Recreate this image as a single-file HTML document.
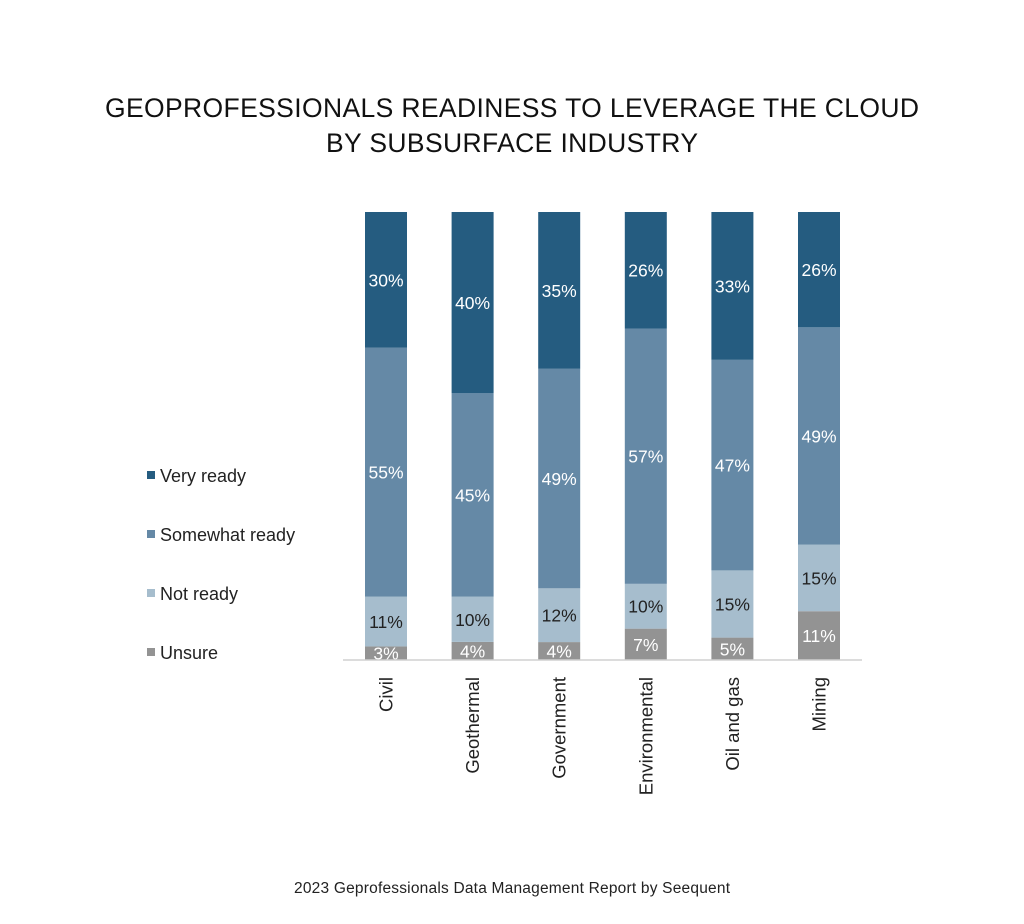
<!DOCTYPE html>
<html><head><meta charset="utf-8"><style>
body{margin:0;background:#fff;width:1024px;height:919px;overflow:hidden;font-family:"Liberation Sans",sans-serif}
</style></head><body>
<svg id="chart" width="1024" height="919" xmlns="http://www.w3.org/2000/svg" font-family="Liberation Sans, sans-serif">
<text x="512" y="117" text-anchor="middle" font-size="26.5" fill="#111" textLength="814">GEOPROFESSIONALS READINESS TO LEVERAGE THE CLOUD</text>
<text x="512" y="152" text-anchor="middle" font-size="26.5" fill="#111" textLength="372">BY SUBSURFACE INDUSTRY</text>
<g id="bars"></g>
<line x1="343" x2="862" y1="660" y2="660" stroke="#d0d0d0" stroke-width="1.5"/>
<g id="legend"></g>
<text x="512" y="893" text-anchor="middle" font-size="15.5" fill="#222" textLength="436">2023 Geprofessionals Data Management Report by Seequent</text>
</svg>
<script>
const categories=["Civil","Geothermal","Government","Environmental","Oil and gas","Mining"];
const seriesNames=["Unsure","Not ready","Somewhat ready","Very ready"];
const unsure=[3,4,4,7,5,11];
const notReady=[11,10,12,10,15,15];
const somewhat=[55,45,49,57,47,49];
const veryReady=[30,40,35,26,33,26];
const colors=["#939393","#a6bdcd","#6589a6","#255c80"];
const textColors=["#fff","#222","#fff","#fff"];
const NS="http://www.w3.org/2000/svg";
const top0=212,base=660,x0=365,step=86.6,bw=42;
const xPos=i=>x0+i*step;
const series=[unsure,notReady,somewhat,veryReady];
const g=document.getElementById('bars');
categories.forEach((c,i)=>{
  const total=series.reduce((s,a)=>s+a[i],0);
  const yScale=v=>v/total*(base-top0);
  let y=base;
  series.forEach((arr,k)=>{
    const h=yScale(arr[i]);y-=h;
    const r=document.createElementNS(NS,'rect');
    
    
    r.setAttribute('x',xPos(i));r.setAttribute('y',y);r.setAttribute('width',bw);r.setAttribute('height',h);r.setAttribute('fill',colors[k]);
    g.appendChild(r);
    const t=document.createElementNS(NS,'text');
    
    
    t.setAttribute('x',xPos(i)+bw/2);t.setAttribute('y',y+h/2+6.5);t.setAttribute('text-anchor','middle');t.setAttribute('font-size','17.5');t.setAttribute('fill',textColors[k]);
    t.textContent=arr[i]+'%';g.appendChild(t);
  });
  const l=document.createElementNS(NS,'text');
  
  
  const lx=xPos(i)+bw/2+6.5,ly=677;
  l.setAttribute('transform','translate('+lx+','+ly+') rotate(-90)');
  l.setAttribute('text-anchor','end');l.setAttribute('font-size','18.5');l.setAttribute('fill','#222');
  l.textContent=c;g.appendChild(l);
});
const lg=document.getElementById('legend');
const legendY=[653,594,535,476];
seriesNames.forEach((n,k)=>{
  const r=document.createElementNS(NS,'rect');
  
  
  r.setAttribute('x',147);r.setAttribute('y',legendY[k]-5);r.setAttribute('width',8);r.setAttribute('height',8);r.setAttribute('fill',colors[k]);
  lg.appendChild(r);
  const t=document.createElementNS(NS,'text');
  
  
  t.setAttribute('x',160);t.setAttribute('y',legendY[k]+6);t.setAttribute('font-size','18');t.setAttribute('fill','#222');
  t.textContent=n;lg.appendChild(t);
});
</script>
</body></html>
